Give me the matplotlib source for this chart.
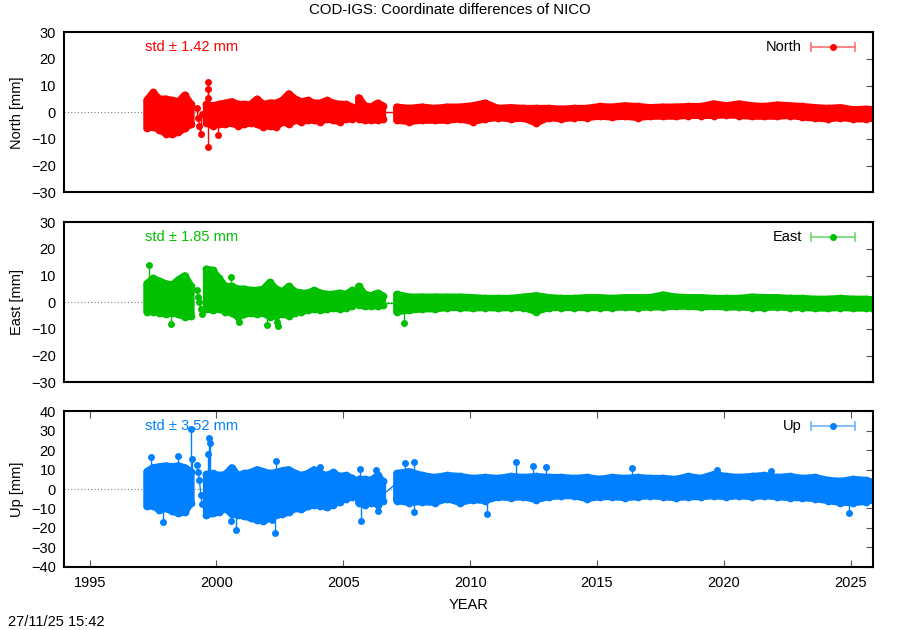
import numpy as np
import matplotlib
matplotlib.use("Agg")
import matplotlib.pyplot as plt

plt.rcParams['font.family'] = ['Liberation Sans', 'DejaVu Sans']

title = "COD-IGS: Coordinate differences of NICO"
components = ["North", "East", "Up"]
ylabels = ["North [mm]", "East [mm]", "Up [mm]"]
std_mm = [1.42, 1.85, 3.52]
colors = ["#ff0000", "#00c000", "#0080ff"]
light_colors = ["#ff7070", "#70d870", "#70b4ff"]
ylims = [(-30, 30), (-30, 30), (-40, 40)]
yticks = [[-30, -20, -10, 0, 10, 20, 30], [-30, -20, -10, 0, 10, 20, 30],
          [-40, -30, -20, -10, 0, 10, 20, 30, 40]]
xticks = [1995, 2000, 2005, 2010, 2015, 2020, 2025]
xlim = (1994.0, 2025.87)
stamp = "27/11/25 15:42"

# bin centres (years) of the dense point cloud, split into continuous segments
years = [1997.25, 1997.5, 1997.75, 1998.0, 1998.25, 1998.5, 1998.75, 1999.0,
         1999.6, 1999.85, 2000.1, 2000.35, 2000.6, 2000.85, 2001.1, 2001.35, 2001.6, 2001.85,
         2002.1, 2002.35, 2002.6, 2002.85, 2003.1, 2003.35, 2003.6, 2003.85, 2004.1, 2004.35,
         2004.6, 2004.85, 2005.1, 2005.35,
         2005.6, 2005.85, 2006.1, 2006.35, 2006.55,
         2007.1, 2007.6, 2008.1, 2008.6, 2009.1, 2009.6, 2010.1, 2010.6, 2011.1, 2011.6,
         2012.1, 2012.6, 2013.1, 2013.6, 2014.1, 2014.6, 2015.1, 2015.6, 2016.1, 2016.6,
         2017.1, 2017.6, 2018.1, 2018.6, 2019.1, 2019.6, 2020.1, 2020.6, 2021.1, 2021.6,
         2022.1, 2022.6, 2023.1, 2023.6, 2024.1, 2024.6, 2025.1, 2025.6, 2025.85]
seg_lengths = [8, 24, 5, 39]

# upper / lower edge of the point cloud (mm)
north_hi = [4.5, 7.5, 5.0, 5.0, 4.5, 4.0, 6.5, 3.0,
            3.0, 2.5, 3.0, 3.5, 4.0, 3.0, 3.0, 3.0, 5.0, 3.0, 3.5, 3.5, 4.5, 7.0, 5.0, 4.0,
            4.5, 3.5, 3.5, 4.5, 3.5, 3.0, 3.0, 2.0,
            5.5, 2.5, 2.0, 3.5, 2.5,
            2.0, 1.5, 2.0, 1.5, 2.0, 2.0, 2.5, 3.5, 1.5, 1.8, 1.5, 1.5, 1.5, 1.2, 1.5, 1.5,
            2.2, 2.0, 2.5, 2.2, 1.8, 2.0, 2.0, 2.2, 2.2, 3.2, 2.5, 3.2, 2.5, 2.2, 2.8, 2.5,
            2.2, 1.8, 1.5, 1.8, 1.0, 1.2, 1.0]
north_lo = [-6.0, -5.5, -6.5, -8.0, -8.2, -7.5, -6.0, -4.5,
            -4.0, -5.0, -4.5, -4.5, -4.0, -5.0, -4.5, -4.0, -4.5, -5.5, -5.0, -5.5, -3.5, -4.5,
            -3.0, -3.5, -3.0, -3.0, -3.5, -2.5, -3.0, -3.5, -2.5, -2.5,
            -2.5, -3.0, -2.8, -3.0, -2.5,
            -3.0, -3.5, -3.0, -3.0, -3.0, -2.5, -3.5, -2.5, -2.0, -2.5, -2.2, -4.0, -2.0, -2.5,
            -2.0, -2.0, -1.5, -1.8, -1.5, -2.0, -1.5, -1.5, -1.5, -1.2, -1.2, -1.2, -1.0, -1.2,
            -1.5, -1.5, -1.5, -1.2, -1.8, -2.2, -2.5, -2.0, -2.5, -2.5, -2.0]
east_hi = [7.0, 9.0, 8.0, 7.0, 6.5, 8.5, 10.0, 6.0,
           12.5, 12.0, 9.0, 6.0, 6.0, 5.0, 5.0, 4.5, 4.5, 5.0, 7.5, 5.0, 4.0, 6.0, 4.0, 3.5,
           3.5, 4.5, 3.5, 3.0, 3.0, 3.5, 3.0, 4.5,
           6.0, 3.0, 2.5, 3.5, 2.5,
           3.0, 2.0, 2.0, 2.0, 2.0, 2.0, 1.8, 1.5, 1.5, 1.5, 2.0, 2.5, 1.8, 1.5, 1.5, 1.8,
           1.8, 1.5, 1.8, 1.8, 1.8, 2.8, 2.0, 1.8, 1.8, 1.5, 1.5, 1.5, 2.0, 1.8, 1.8, 1.5,
           1.5, 1.2, 1.2, 1.5, 1.2, 1.2, 1.0]
east_lo = [-3.5, -3.5, -4.0, -4.5, -4.0, -4.5, -5.5, -5.0,
           -2.5, -3.0, -2.5, -3.5, -4.0, -5.5, -4.5, -4.0, -4.5, -4.0, -5.5, -5.0, -4.5, -5.0,
           -4.0, -3.5, -3.0, -2.5, -3.0, -2.5, -2.0, -2.5, -2.0, -1.5,
           -1.0, -1.5, -1.2, -1.5, -1.0,
           -3.5, -3.0, -2.5, -2.5, -2.0, -2.0, -2.2, -2.0, -2.2, -2.0, -2.0, -3.5, -2.0, -2.0,
           -2.0, -2.0, -2.0, -2.0, -1.8, -2.0, -1.8, -1.8, -1.5, -1.5, -1.8, -1.5, -1.8, -1.8,
           -2.0, -2.0, -1.8, -2.0, -2.0, -2.2, -2.2, -2.0, -2.2, -2.2, -2.0]
up_hi = [9.0, 11.0, 11.5, 12.0, 11.5, 12.0, 11.0, 9.0,
         7.5, 8.0, 7.0, 7.5, 11.0, 7.0, 8.0, 8.5, 10.0, 9.0, 8.0, 8.5, 9.5, 10.0, 8.0, 7.0,
         8.0, 10.0, 8.0, 7.0, 8.5, 6.5, 7.0, 5.5,
         5.0, 5.0, 4.5, 7.0, 4.0,
         8.0, 9.0, 7.0, 6.0, 7.0, 6.5, 5.5, 6.0, 5.5, 6.5, 6.0, 6.5, 6.0, 6.0, 5.5, 6.0,
         5.0, 6.0, 5.5, 6.0, 5.5, 5.5, 5.0, 6.5, 5.5, 7.5, 6.5, 6.0, 6.5, 7.0, 6.0, 6.5,
         5.5, 6.0, 4.5, 4.0, 5.0, 4.5, 3.5]
up_lo = [-9.0, -8.5, -11.0, -10.0, -11.5, -12.5, -12.0, -7.0,
         -13.5, -12.5, -12.0, -10.0, -13.0, -13.5, -14.0, -15.0, -16.0, -16.5, -15.0, -13.5,
         -13.0, -12.0, -10.0, -10.5, -9.0, -8.0, -8.5, -9.5, -8.0, -6.5, -5.0, -4.0,
         -7.0, -8.0, -7.0, -8.0, -6.0,
         -6.0, -7.0, -6.5, -7.0, -5.0, -7.0, -5.5, -6.0, -4.0, -4.5, -4.0, -5.5, -4.0, -3.5,
         -3.5, -5.0, -4.0, -4.0, -4.5, -4.0, -3.5, -4.0, -4.5, -4.0, -4.0, -3.5, -4.0, -3.5,
         -4.0, -3.5, -4.0, -4.5, -4.5, -5.0, -6.0, -7.0, -7.0, -6.5, -5.5]

# isolated epochs between the first two segments
sparse_years = [1999.22, 1999.28, 1999.33, 1999.38, 1999.43]
north_sparse = [1.5, -2.0, -5.0, -8.0, -0.5]
east_sparse = [4.5, 2.0, 0.0, -2.5, -4.5]
up_sparse = [12.5, 8.5, 4.5, -3.0, -7.5]

# outlying epochs
north_out_years = [1999.65, 1999.67, 1999.66, 1999.65, 2000.05]
north_out_vals = [11.5, 8.8, 5.5, -13.0, -8.6]
east_out_years = [1997.33, 1998.2, 2000.57, 2000.9, 2002.0, 2002.4, 2002.42, 2007.4]
east_out_vals = [14.0, -8.0, 9.5, -7.5, -8.5, -7.5, -8.8, -7.8]
up_out_years = [1997.4, 1997.9, 1998.5, 1999.0, 1999.05, 1999.68, 1999.72, 1999.75, 2000.58,
                2000.78, 2002.2, 2002.29, 2002.35, 2004.1, 2005.65, 2005.7, 2006.3, 2006.35,
                2007.45, 2007.78, 2007.78, 2010.65, 2011.82, 2012.49, 2013.0, 2016.4, 2019.72,
                2021.87, 2024.92]
up_out_vals = [16.3, -16.8, 17.0, 30.7, 15.3, 18.0, 26.5, 23.5, -16.5,
               -21.0, -16.0, -22.8, 14.2, 11.5, 10.1, -16.3, 9.8, -11.5,
               13.5, 14.0, -11.7, -13.0, 14.0, 12.0, 11.3, 11.0, 9.8,
               9.3, -12.2]

# lines across the data gaps
link_years = [2005.35, 2005.6, 2006.55, 2007.1]
north_links = [0.3, 0.3, 0.0, 0.0]
east_links = [0.0, 0.0, -0.2, -0.2]
up_links = [3.5, -0.5, -3.0, 3.0]

series = [
    (north_hi, north_lo, north_sparse, north_out_years, north_out_vals, north_links),
    (east_hi, east_lo, east_sparse, east_out_years, east_out_vals, east_links),
    (up_hi, up_lo, up_sparse, up_out_years, up_out_vals, up_links),
]

fig = plt.figure(figsize=(9, 6.3), dpi=100)
W, H = 900.0, 630.0
panel_px = [(32.3, 192.3), (222.3, 382.3), (411.3, 566.7)]
left_px, right_px = 64.3, 872.7
ms = 5.0

yrs = np.array(years)
for i, (comp, ylab, sd, col, lcol, ylim, yt, data) in enumerate(
        zip(components, ylabels, std_mm, colors, light_colors, ylims, yticks, series)):
    top, bot = panel_px[i]
    ax = fig.add_axes([left_px / W, 1 - bot / H, (right_px - left_px) / W, (bot - top) / H])
    hi_v, lo_v, sp, oy, ov, lk = data
    hi_v = np.asarray(hi_v, dtype=float)
    lo_v = np.asarray(lo_v, dtype=float)

    ax.axhline(0, color="#808080", lw=0.8, ls=(0, (1, 2)), zorder=1)

    # outlier stems
    for t0, v0 in zip(oy, ov):
        base = np.interp(t0, yrs, hi_v if v0 > 0 else lo_v)
        ax.plot([t0, t0], [base, v0], color=col, lw=1.0, zorder=2)
    ax.plot(oy, ov, 'o', ms=ms, color=col, mec='none', zorder=3)

    # gap links
    ax.plot(link_years[0:2], lk[0:2], color=col, lw=1.0, zorder=2)
    ax.plot(link_years[2:4], lk[2:4], color=col, lw=1.0, zorder=2)

    # sparse epochs
    ax.plot(sparse_years, sp, '-o', ms=ms, color=col, mec='none', lw=1.0, zorder=3)

    # dense point cloud: band between the upper and lower edge, edge thickened by the marker size
    start = 0
    for n in seg_lengths:
        ts = yrs[start:start + n]
        hs = hi_v[start:start + n]
        ls_ = lo_v[start:start + n]
        px = np.concatenate([ts, ts[::-1]])
        py = np.concatenate([hs, ls_[::-1]])
        ax.fill(px, py, facecolor=col, edgecolor=col, linewidth=ms, joinstyle='round',
                zorder=3)
        ax.plot(ts, hs, 'o', ms=ms + 0.6, color=col, mec='none', zorder=3)
        ax.plot(ts, ls_, 'o', ms=ms + 0.6, color=col, mec='none', zorder=3)
        start += n

    ax.set_xlim(*xlim)
    ax.set_ylim(*ylim)
    ax.set_yticks(yt)
    ax.set_xticks(xticks)
    for s in ax.spines.values():
        s.set_linewidth(1.5)
        s.set_zorder(5)
    ax.tick_params(axis='y', which='major', left=False, right=True, direction='in',
                   length=5, color='#555555', labelsize=10.5, pad=6, labelleft=True)
    if i < 2:
        ax.tick_params(axis='x', bottom=False, top=False, labelbottom=False)
    else:
        ax.tick_params(axis='x', bottom=True, top=True, direction='in', length=5,
                       color='#555555', labelsize=10.5, pad=7)
        ax.set_xlabel("YEAR", fontsize=10.5)
        ax.xaxis.set_label_coords(0.5, -0.203)

    ax.set_ylabel(ylab, fontsize=10.5)
    ax.yaxis.set_label_coords(-0.050, 0.5)

    ly = (bot - (top + 15.0)) / (bot - top)
    ax.text(0.0998, ly, f"std \u00b1 {sd:.2f} mm", color=col, fontsize=10.5,
            ha='left', va='center', transform=ax.transAxes, zorder=6)
    ax.text(0.9123, ly, comp, color='black', fontsize=10.5, ha='right', va='center',
            transform=ax.transAxes)
    x0, x1 = 0.9233, 0.978
    cap = 4.0 / (bot - top)
    ax.plot([x0, x1], [ly, ly], color=lcol, lw=1.2, transform=ax.transAxes, clip_on=False)
    ax.plot([x0, x0], [ly - cap, ly + cap], color=lcol, lw=1.2, transform=ax.transAxes, clip_on=False)
    ax.plot([x1, x1], [ly - cap, ly + cap], color=lcol, lw=1.2, transform=ax.transAxes, clip_on=False)
    ax.plot([(x0 + x1) / 2], [ly], 'o', ms=4, color=col, transform=ax.transAxes, clip_on=False)

fig.text(0.5, 1 - 10.0 / H, title, ha='center', va='center', fontsize=10.8)
fig.text(8.0 / W, 1 - 622.0 / H, stamp, ha='left', va='center', fontsize=10.5)

fig.savefig("out.png", dpi=100)
